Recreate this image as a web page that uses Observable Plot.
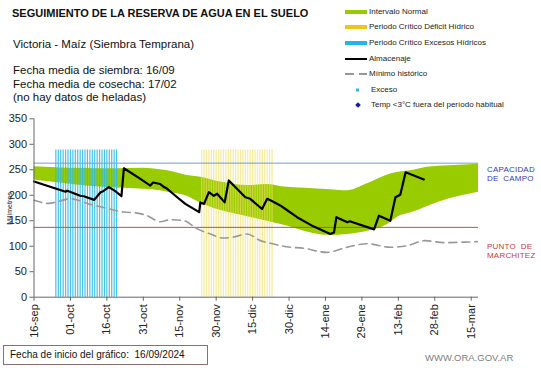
<!DOCTYPE html>
<html>
<head>
<meta charset="utf-8">
<script src="https://cdn.jsdelivr.net/npm/d3@7"></script>
<script src="https://cdn.jsdelivr.net/npm/@observablehq/plot@0.6"></script>
<style>
  html, body { margin: 0; padding: 0; background: #fff; }
  #wrap { position: relative; width: 541px; height: 368px; overflow: hidden; font-family: Arial, "Liberation Sans", sans-serif; color: #111; }
  .abs { position: absolute; white-space: nowrap; }
  .leg { position: absolute; font-size: 8px; color: #222; line-height: 10px; transform: translateY(-50%); white-space: nowrap; }
  .sw { position: absolute; transform: translateY(-50%); }
  #chart { position: absolute; left: 0; top: 100px; }
</style>
</head>
<body>
<div id="wrap">
  <div class="abs" style="left:12px;top:7px;font-size:11px;font-weight:bold;">SEGUIMIENTO DE LA RESERVA DE AGUA EN EL SUELO</div>
  <div class="abs" style="left:13px;top:38px;font-size:11.5px;">Victoria - Maíz (Siembra Temprana)</div>
  <div class="abs" style="left:13px;top:64px;font-size:11.5px;line-height:13.7px;">Fecha media de siembra: 16/09<br>Fecha media de cosecha: 17/02<br>(no hay datos de heladas)</div>

  <div id="legend"></div>
  <div id="chart"></div>

  <div class="abs" style="left:-16px;top:205px;font-size:7px;color:#222;transform:rotate(-90deg);transform-origin:center;width:50px;text-align:center;">Milímetros</div>

  <div class="abs" style="left:487px;top:165px;font-size:8px;line-height:9px;color:#3b3bb0;letter-spacing:0.2px;">CAPACIDAD<br>DE&nbsp; CAMPO</div>
  <div class="abs" style="left:487px;top:242px;font-size:8px;line-height:9px;color:#c83a3a;letter-spacing:0.2px;">PUNTO&nbsp; DE<br>MARCHITEZ</div>

  <div class="abs" style="left:3px;top:345px;width:205px;height:20px;border:1px solid #8c7070;box-sizing:border-box;font-size:10px;line-height:18px;padding-left:6px;">Fecha de inicio del gráfico:&nbsp;&nbsp;16/09/2024</div>
  <div class="abs" style="left:425px;top:352px;font-size:9.5px;color:#808080;">WWW.ORA.GOV.AR</div>
</div>
<script>
// ---- Data (x = days since 16-sep-2024) ----
const tickDays = [0, 15, 30, 45, 60, 75, 90, 105, 120, 135, 150, 165, 180];
const tickLabels = ["16-sep","01-oct","16-oct","31-oct","15-nov","30-nov","15-dic","30-dic","14-ene","29-ene","13-feb","28-feb","15-mar"];

const bandDays  = [0, 14, 27, 34, 45, 52, 55, 63, 68, 77, 88, 96, 103, 115, 122, 129, 137, 145, 150, 155, 162, 171, 183];
const bandUpper = [256, 253, 252, 252, 253, 250, 248, 239, 236, 226, 219, 221, 216, 213, 211, 209, 222, 239, 245, 248, 255, 258, 261];
const bandLower = [230, 222, 216, 214, 212, 209, 206, 198, 186, 170, 158, 149, 141, 125, 121, 123, 129, 141, 158, 165, 178, 193, 206];

const almDays = [0, 13, 13.7, 19, 20.5, 24.8, 27.4, 28.5, 30.8, 33.5, 36, 37, 43.8, 47.9, 49, 52, 53.5, 54.5, 58.2, 62.3, 68, 68.5, 70, 72, 74, 75.4, 78.5, 80.2, 87, 89, 93.9, 96, 97.3, 101.4, 103.5, 108.3, 115, 122, 123.5, 124.5, 129, 130, 140, 142, 146.7, 148.8, 150.8, 153, 160.5];
const almVals = [227, 207, 209, 199, 198, 191, 206, 208, 216, 208, 198, 253, 232, 219, 225, 222, 216, 214, 199, 183, 167, 186, 183, 206, 199, 203, 186, 229, 196, 193, 173, 193, 190, 180, 173, 157, 139, 124, 127, 157, 147, 149, 133, 160, 150, 196, 201, 245, 231];

const minDays = [0, 6, 15, 22.6, 28.7, 37, 42.5, 46.6, 52, 56, 61.7, 67.2, 72.6, 78, 82, 87.7, 93.2, 97.3, 104, 111, 120.6, 128.9, 137, 146.7, 153.6, 161, 168.6, 177, 182.5];
const minVals = [190, 184, 193, 183, 176, 167, 165, 160, 148, 152, 150, 134, 124, 116, 118, 124, 111, 106, 99, 96, 88, 98, 105, 98, 101, 111, 107, 108, 109];

const excesoCritDays = [9, 10, 11, 12, 13, 14, 15, 16, 17, 18, 19, 20, 21, 22, 23, 24, 25, 26, 27, 28, 29, 30, 31, 32, 33, 34];
const deficitCritDays = [69, 70, 71, 72, 73, 74, 75, 76, 77, 78, 79, 80, 81, 82, 83, 84, 85, 86, 87, 88, 89, 90, 91, 92, 93, 94, 95, 96, 97, 98];
const critHeight = 289;

const capacidadCampo = 263;
const puntoMarchitez = 137;

// ---- Tables ----
const band = bandDays.map((d, i) => ({day: d, lo: bandLower[i], hi: bandUpper[i]}));
const alm = almDays.map((d, i) => ({day: d, v: almVals[i]}));
const minH = minDays.map((d, i) => ({day: d, v: minVals[i]}));
const exc = excesoCritDays.map(d => ({day: d, v: critHeight}));
const def = deficitCritDays.map(d => ({day: d, v: critHeight}));

const chart = Plot.plot({
  width: 541,
  height: 250,
  marginLeft: 33.5,
  marginRight: 63,
  marginTop: 18.3,
  marginBottom: 53.3,
  style: {fontFamily: "Arial, 'Liberation Sans', sans-serif", fontSize: "11px", color: "#222", background: "transparent"},
  x: {domain: [0, 183]},
  y: {domain: [0, 350]},
  marks: [
    Plot.areaY(band, {x: "day", y1: "lo", y2: "hi", fill: "#99cc00", curve: "monotone-x"}),
    Plot.ruleX(exc, {x: "day", y1: 0, y2: "v", stroke: "#33bbdd", strokeWidth: 1.2, strokeOpacity: 0.9}),
    Plot.ruleX(def, {x: "day", y1: 0, y2: "v", stroke: "#eedd66", strokeWidth: 1.3, strokeOpacity: 0.6}),
    Plot.ruleY([capacidadCampo], {stroke: "#6f9fd6", strokeWidth: 1}),
    Plot.ruleY([puntoMarchitez], {stroke: "#c0504d", strokeWidth: 1}),
    Plot.lineY(minH, {x: "day", y: "v", stroke: "#999", strokeWidth: 1.6, strokeDasharray: "8,5", curve: "monotone-x"}),
    Plot.lineY(alm, {x: "day", y: "v", stroke: "#000", strokeWidth: 2.2}),
    Plot.ruleX([0], {stroke: "#666"}),
    Plot.ruleY([0], {stroke: "#666"}),
    Plot.axisY({ticks: [0, 50, 100, 150, 200, 250, 300, 350], tickSize: 4, tickPadding: 3, label: null, stroke: "#666"}),
    Plot.axisX({ticks: tickDays, tickFormat: d => tickLabels[tickDays.indexOf(d)], tickRotate: -90, tickSize: 4, tickPadding: 3, label: null, stroke: "#666"})
  ]
});
document.getElementById("chart").appendChild(chart);

// ---- Legend ----
const legend = document.getElementById("legend");
const items = [
  {y: 11.7, kind: "bar", color: "#99cc00", text: "Intervalo Normal"},
  {y: 26.7, kind: "bar", color: "#f0c419", text: "Periodo Crítico Déficit Hídrico"},
  {y: 42.7, kind: "bar", color: "#1fb8e8", text: "Periodo Crítico Excesos Hídricos"},
  {y: 59, kind: "line", color: "#000", text: "Almacenaje"},
  {y: 74, kind: "dash", color: "#999", text: "Mínimo histórico"},
  {y: 90, kind: "dot", color: "#33bbdd", text: "Exceso"},
  {y: 105, kind: "diamond", color: "#1a1aa0", text: "Temp <3°C fuera del período habitual"}
];
for (const it of items) {
  const sw = document.createElement("div");
  sw.className = "sw";
  let tx = 369;
  if (it.kind === "bar") {
    Object.assign(sw.style, {left: "345px", top: it.y + "px", width: "22px", height: "4px", background: it.color});
  } else if (it.kind === "line") {
    Object.assign(sw.style, {left: "345px", top: it.y + "px", width: "22px", height: "0", borderTop: "2px solid " + it.color});
  } else if (it.kind === "dash") {
    Object.assign(sw.style, {left: "345px", top: it.y + "px", width: "22px", height: "2px",
      background: "linear-gradient(to right, " + it.color + " 0 9px, transparent 9px 14px, " + it.color + " 14px 22px)"});
  } else if (it.kind === "dot") {
    Object.assign(sw.style, {left: "356px", top: it.y + "px", width: "3px", height: "3px", background: it.color});
    tx = 371;
  } else {
    Object.assign(sw.style, {left: "355.5px", top: it.y + "px", width: "4px", height: "4px", background: it.color, transform: "translateY(-50%) rotate(45deg)"});
    tx = 371;
  }
  legend.appendChild(sw);
  const t = document.createElement("div");
  t.className = "leg";
  t.style.left = tx + "px";
  t.style.top = it.y + "px";
  t.textContent = it.text;
  legend.appendChild(t);
}
</script>
</body>
</html>
